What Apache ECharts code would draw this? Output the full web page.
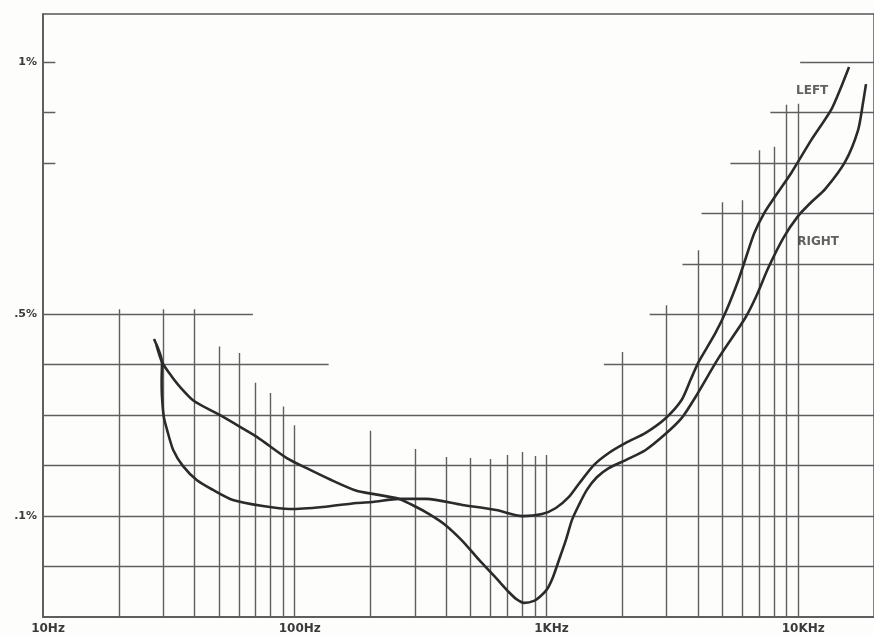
<!DOCTYPE html>
<html>
<head>
<meta charset="utf-8">
<script src="https://cdn.jsdelivr.net/npm/echarts@6/dist/echarts.min.js"></script>
<style>
  html, body { margin: 0; padding: 0; background: #fdfdfc; }
  #chart { width: 874px; height: 635px; }
</style>
</head>
<body>
<div id="chart"></div>
<script>
// ---- data (frequency in Hz, distortion in %) ----
const freqTicks = [10, 100, 1000, 10000];
const freqLabels = ['10Hz', '100Hz', '1KHz', '10KHz'];
const pctTicks = [0.1, 0.5, 1.0];
const pctLabels = ['.1%', '.5%', '1%'];

const leftFreq = [27.6, 29.7, 29.6, 29.7, 30.2, 31.1, 32.9, 36.0, 40.9, 47.3, 56.8, 74.7, 95.5, 129, 176, 204, 260, 333, 463, 631, 800, 960, 1090, 1228, 1345, 1542, 1768, 2065, 2477, 2974, 3441, 3736, 4018, 4692, 5187, 5787, 6224, 6694, 7334, 8107, 9382, 11260, 13510, 14800, 15920];
const leftPct = [0.451, 0.405, 0.370, 0.336, 0.296, 0.271, 0.231, 0.199, 0.171, 0.152, 0.132, 0.120, 0.114, 0.118, 0.126, 0.128, 0.134, 0.134, 0.122, 0.112, 0.100, 0.104, 0.116, 0.138, 0.164, 0.201, 0.225, 0.245, 0.265, 0.294, 0.330, 0.370, 0.405, 0.463, 0.508, 0.568, 0.615, 0.661, 0.701, 0.734, 0.780, 0.845, 0.905, 0.950, 0.990];

const rightFreq = [28.2, 29.7, 32.3, 35.0, 39.8, 50.5, 60.6, 70.7, 93.0, 111.5, 137.6, 176, 204, 260, 304, 342, 393, 463, 540, 631, 710, 757, 815, 892, 951, 1005, 1061, 1121, 1195, 1262, 1345, 1447, 1585, 1768, 2065, 2477, 2974, 3441, 3908, 4822, 6167, 6819, 7607, 8722, 10000, 11260, 12790, 15350, 17290, 18090, 18590];
const rightPct = [0.439, 0.405, 0.378, 0.356, 0.328, 0.300, 0.277, 0.257, 0.215, 0.195, 0.173, 0.150, 0.144, 0.134, 0.118, 0.104, 0.084, 0.051, 0.013, -0.023, -0.051, -0.064, -0.072, -0.068, -0.058, -0.045, -0.021, 0.013, 0.053, 0.092, 0.122, 0.152, 0.177, 0.195, 0.211, 0.231, 0.263, 0.294, 0.336, 0.413, 0.493, 0.536, 0.592, 0.651, 0.695, 0.722, 0.748, 0.802, 0.865, 0.919, 0.956];

// staggered grid of the original chart paper
const vGridFreq = [20, 30, 40, 50, 60, 70, 80, 90, 100, 200, 300, 400, 500, 600, 700, 800, 900, 1000, 2000, 3000, 4000, 5000, 6000, 7000, 8000, 9000, 10000];
const vGridTop = [0.51, 0.51, 0.51, 0.436, 0.423, 0.364, 0.344, 0.317, 0.28, 0.269, 0.233, 0.217, 0.215, 0.213, 0.221, 0.227, 0.219, 0.221, 0.425, 0.518, 0.627, 0.722, 0.726, 0.825, 0.832, 0.915, 0.917];
const hGridLevel = [1.0, 0.9, 0.8, 0.7, 0.6, 0.5, 0.4, 0.3, 0.2, 0.1, 0.0];
const hGridFrom = [10180, 7750, 5380, 4130, 3470, 2570, 1690, 10, 10, 10, 10];
const hGridLeftTo = [11.2, 11.2, 11.2, null, null, 68.2, 136.4, null, null, null, null];

const curveLabels = ['LEFT', 'RIGHT'];
const curveLabelFreq = [11360, 12000];
const curveLabelPct = [0.9425, 0.643];

// ---- build ----
const X_MIN = 10, X_MAX = 20000, Y_MIN = -0.1, Y_MAX = 1.095;
const segs = [];
vGridFreq.forEach((f, i) => segs.push({ coords: [[f, Y_MIN], [f, vGridTop[i]]] }));
hGridLevel.forEach((v, i) => {
  segs.push({ coords: [[hGridFrom[i], v], [X_MAX, v]] });
  if (hGridLeftTo[i] != null) segs.push({ coords: [[X_MIN, v], [hGridLeftTo[i], v]] });
});

const zip = (a, b) => a.map((x, i) => [x, b[i]]);
const lblMap = {}; freqTicks.forEach((t, i) => lblMap[t] = freqLabels[i]);
const pMap = {}; pctTicks.forEach((t, i) => pMap[Math.round(t * 10)] = pctLabels[i]);

const chart = echarts.init(document.getElementById('chart'));
chart.setOption({
  backgroundColor: '#fdfdfc',
  animation: false,
  grid: { left: 43, top: 14, width: 834, height: 603, show: true, borderColor: '#555', borderWidth: 1.5, backgroundColor: 'transparent' },
  xAxis: {
    type: 'log', logBase: 10, min: X_MIN, max: X_MAX,
    axisLine: { show: true, onZero: false, lineStyle: { color: '#555', width: 1.5 } },
    axisTick: { show: false },
    splitLine: { show: false },
    minorTick: { show: false }, minorSplitLine: { show: false },
    axisLabel: {
      showMinLabel: true, showMaxLabel: false, margin: 6,
      color: '#3a3a3a', fontSize: 12, fontWeight: 'bold', fontFamily: 'DejaVu Sans',
      padding: [0, 0, 0, 10],
      formatter: v => lblMap[Math.round(v)] || ''
    }
  },
  yAxis: {
    type: 'value', min: Y_MIN, max: Y_MAX, interval: 0.1,
    axisLine: { show: true, onZero: false, lineStyle: { color: '#555', width: 1.5 } },
    axisTick: { show: false },
    splitLine: { show: false },
    axisLabel: {
      showMaxLabel: false, margin: 6,
      color: '#3a3a3a', fontSize: 11, fontWeight: 'bold', fontFamily: 'DejaVu Sans',
      formatter: v => pMap[Math.round(v * 10)] || ''
    }
  },
  series: [
    {
      type: 'lines', coordinateSystem: 'cartesian2d', silent: true, z: 1,
      lineStyle: { color: '#5f5f5f', width: 1.4, opacity: 1 },
      data: segs
    },
    {
      name: 'LEFT', type: 'line', smooth: 0.25, symbol: 'none', z: 3,
      lineStyle: { color: '#2b2b2b', width: 2.6 },
      data: zip(leftFreq, leftPct)
    },
    {
      name: 'RIGHT', type: 'line', smooth: 0.25, symbol: 'none', z: 3,
      lineStyle: { color: '#2b2b2b', width: 2.6 },
      data: zip(rightFreq, rightPct)
    },
    {
      type: 'scatter', symbolSize: 0, silent: true, z: 4,
      data: curveLabels.map((t, i) => ({ value: [curveLabelFreq[i], curveLabelPct[i]], name: t })),
      label: { show: true, position: 'inside', formatter: p => p.name, color: '#3a3a3a', fontSize: 12, fontWeight: 'bold', fontFamily: 'DejaVu Sans' }
    }
  ]
});
</script>
</body>
</html>
